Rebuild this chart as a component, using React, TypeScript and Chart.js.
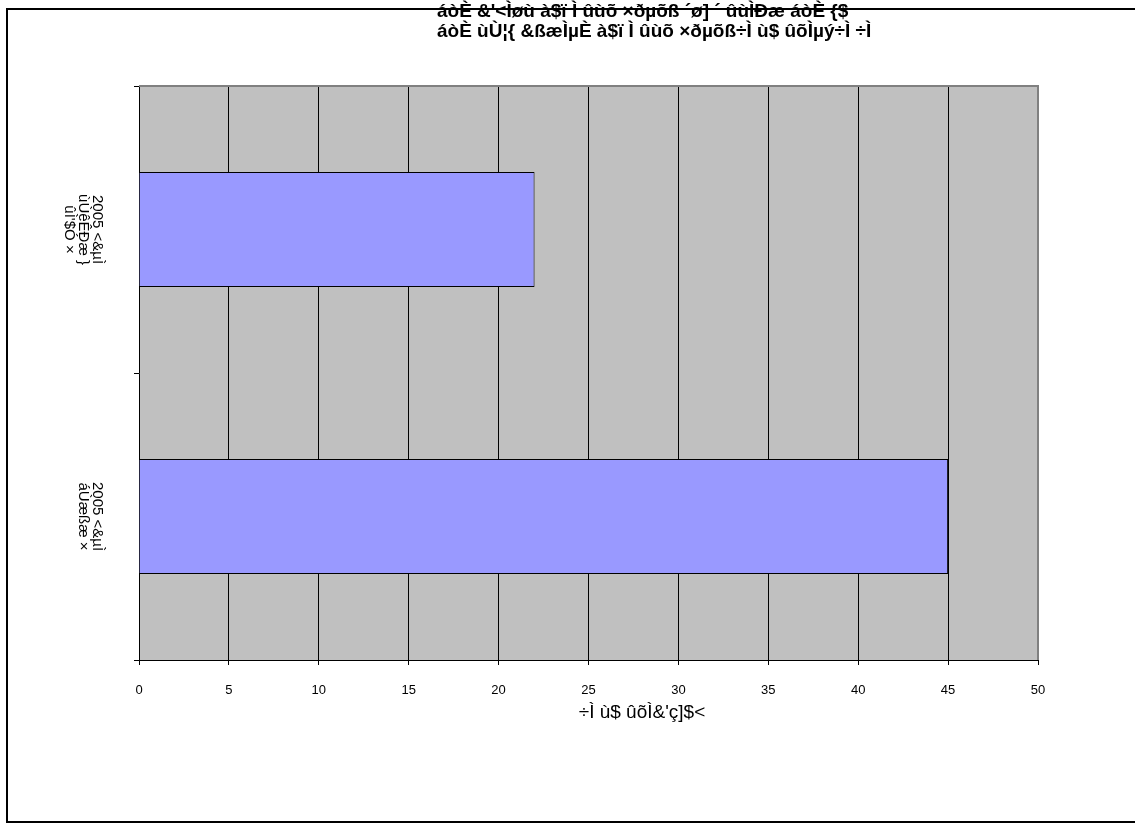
import React, { useEffect, useRef } from 'react';
import { Chart, registerables } from 'chart.js';

Chart.register(...registerables);

const titleLines: string[] = [
  "áòÈ &'<Ìøù à$ï Ì ûùõ ×ðµõß ´ø] ´ ûùÌÐæ áòÈ {$",
  "áòÈ ùÙ¦{ &ßæÌµÈ à$ï Ì ûùõ ×ðµõß÷Ì ù$ ûõÌµý÷Ì ÷Ì",
];
const categoryLines: string[][] = [
  ["2005 <&µÌ", "ùÙêÊÐæ }", "ûÌ'$Ó ×"],
  ["2005 <&µÌ", "áÙæßæ ×"],
];
const categories: string[] = categoryLines.map((l) => l.join(' '));
const values: number[] = [22, 45];
const xMin = 0;
const xMax = 50;
const xStep = 5;
const xTitle = "÷Ì ù$ ûõÌ&'ç]$<";

const FONT = '"Liberation Sans", Arial, sans-serif';

const decorPlugin = {
  id: 'decor',
  beforeDraw(chart: any) {
    const { ctx, chartArea: a } = chart;
    ctx.save();
    ctx.fillStyle = '#ffffff';
    ctx.fillRect(0, 0, chart.width, chart.height);
    ctx.fillStyle = '#C0C0C0';
    ctx.fillRect(a.left, a.top, a.right - a.left, a.bottom - a.top);
    ctx.restore();
  },
  afterDraw(chart: any) {
    const { ctx, chartArea: a } = chart;
    const yScale = chart.scales.y;
    ctx.save();
    ctx.strokeStyle = '#808080';
    ctx.lineWidth = 2;
    ctx.beginPath();
    ctx.moveTo(a.left, a.top);
    ctx.lineTo(a.right, a.top);
    ctx.lineTo(a.right, a.bottom);
    ctx.stroke();

    ctx.strokeStyle = '#000000';
    ctx.lineWidth = 2;
    ctx.strokeRect(7, 9, 1300, 813);

    ctx.fillStyle = '#000000';
    ctx.font = 'bold 19px ' + FONT;
    ctx.textAlign = 'left';
    ctx.textBaseline = 'alphabetic';
    ctx.fillText(titleLines[0], 437, 17);
    ctx.fillText(titleLines[1], 437, 37);

    ctx.font = '19px ' + FONT;
    ctx.textAlign = 'center';
    ctx.fillText(xTitle, 642, 718);

    ctx.font = '15px ' + FONT;
    ctx.textAlign = 'center';
    ctx.textBaseline = 'middle';
    categoryLines.forEach((lines, i) => {
      const y = yScale.getPixelForValue(i);
      ctx.save();
      ctx.translate(97, y);
      ctx.rotate(Math.PI / 2);
      lines.forEach((ln, j) => ctx.fillText(ln, 0, j * 14));
      ctx.restore();
    });
    ctx.restore();
  },
};

export default function App() {
  const ref = useRef<HTMLCanvasElement | null>(null);
  useEffect(() => {
    if (!ref.current) return;
    const chart = new Chart(ref.current, {
      type: 'bar',
      data: {
        labels: categories,
        datasets: [
          {
            data: values,
            backgroundColor: '#9999FF',
            borderColor: '#000000',
            borderWidth: 1,
            barPercentage: 0.4,
            categoryPercentage: 1,
          },
        ],
      },
      options: {
        indexAxis: 'y',
        animation: false,
        responsive: false,
        devicePixelRatio: 1,
        layout: { padding: { left: 0, top: 86, right: 97, bottom: 0 } },
        plugins: { legend: { display: false }, tooltip: { enabled: false }, title: { display: false } },
        scales: {
          x: {
            type: 'linear',
            min: xMin,
            max: xMax,
            ticks: { stepSize: xStep, color: '#000', font: { family: FONT, size: 13 }, padding: 18 },
            grid: {
              color: (c: any) => (c.tick && c.tick.value > xMin && c.tick.value < xMax ? '#000' : 'rgba(0,0,0,0)'),
              tickColor: '#000',
              tickLength: 5,
              lineWidth: 1,
            },
            border: { color: '#000', width: 1 },
            afterFit: (s: any) => { s.height = 164; },
          },
          y: {
            type: 'category',
            offset: true,
            ticks: { display: false },
            grid: { offset: true, drawOnChartArea: false, color: '#000', tickLength: 5 },
            border: { color: '#000', width: 1 },
            afterFit: (s: any) => { s.width = 139; },
          },
        },
      },
      plugins: [decorPlugin],
    });
    return () => chart.destroy();
  }, []);
  return (
    <div style={{ position: 'fixed', left: 0, top: 0, width: 1135, height: 824, background: '#fff' }}>
      <canvas ref={ref} width={1135} height={824} style={{ display: 'block', width: 1135, height: 824 }} />
    </div>
  );
}
